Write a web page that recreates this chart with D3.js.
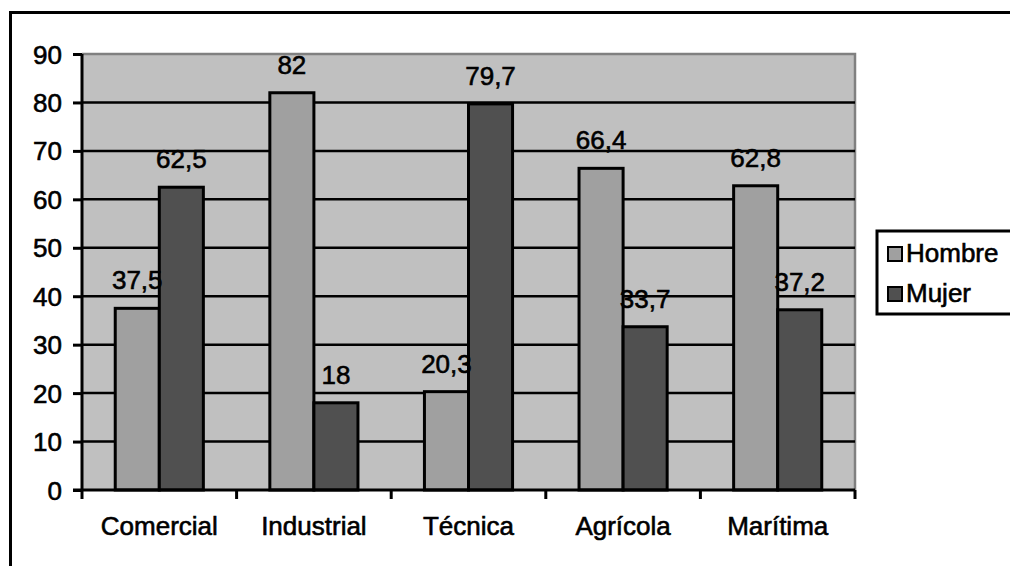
<!DOCTYPE html>
<html><head><meta charset="utf-8">
<script src="https://cdn.jsdelivr.net/npm/d3@7"></script>
<style>
html,body{margin:0;padding:0;background:#fff;}
svg text{font-family:"Liberation Sans",Arial,sans-serif;fill:#000;}
</style></head>
<body><svg id="c" width="1010" height="566"></svg>
<script>
const categories = ["Comercial","Industrial","Técnica","Agrícola","Marítima"];
const series = ["Hombre","Mujer"];
const hombre = [37.5, 82, 20.3, 66.4, 62.8];
const mujer = [62.5, 18, 79.7, 33.7, 37.2];
const yTicks = [0,10,20,30,40,50,60,70,80,90];
const colors = {Hombre:"#a0a0a0", Mujer:"#505050"};

const svg = d3.select("#c");
const plot = {l:82, t:54, r:855, b:490};
const fs = 26;

// outer frame
svg.append("rect").attr("x",10.5).attr("y",12.5).attr("width",1010).attr("height",600)
  .attr("fill","none").attr("stroke","#000").attr("stroke-width",3);

const x0 = d3.scaleBand().domain(categories).range([plot.l, plot.r]).padding(0);
const bw = x0.bandwidth();
const x1 = d3.scaleBand().domain(series).range([bw*0.215, bw*0.785]).padding(0);
const y = d3.scaleLinear().domain([0,90]).range([plot.b, plot.t]);

// plot background
svg.append("rect").attr("x",plot.l).attr("y",plot.t).attr("width",plot.r-plot.l).attr("height",plot.b-plot.t)
  .attr("fill","#c0c0c0");
// top & right border (grey)
svg.append("path").attr("d",`M${plot.l},${plot.t}H${plot.r}V${plot.b}`).attr("fill","none")
  .attr("stroke","#808080").attr("stroke-width",2.5);

// gridlines
svg.append("g").selectAll("line").data(yTicks.filter(d=>d>0 && d<90)).join("line")
  .attr("x1",plot.l).attr("x2",plot.r).attr("y1",d=>y(d)).attr("y2",d=>y(d))
  .attr("stroke","#000").attr("stroke-width",2.5);

// bars
const data = categories.map((c,i)=>({c, vals:[{s:"Hombre",v:hombre[i]},{s:"Mujer",v:mujer[i]}]}));
const groups = svg.append("g").selectAll("g").data(data).join("g")
  .attr("transform",d=>`translate(${x0(d.c)},0)`);
groups.selectAll("rect").data(d=>d.vals).join("rect")
  .attr("x",d=>x1(d.s)).attr("width",x1.bandwidth())
  .attr("y",d=>y(d.v)).attr("height",d=>y(0)-y(d.v))
  .attr("fill",d=>colors[d.s]).attr("stroke","#000").attr("stroke-width",3);
groups.selectAll("text").data(d=>d.vals).join("text")
  .attr("x",d=>x1(d.s)+x1.bandwidth()/2).attr("y",d=>y(d.v)-19)
  .attr("text-anchor","middle").attr("font-size",fs)
  .attr("stroke","#000").attr("stroke-width",0.6)
  .text(d=>String(d.v).replace(".",","));

// y axis
const yAxis = svg.append("g").attr("transform",`translate(${plot.l},0)`)
  .call(d3.axisLeft(y).tickValues(yTicks).tickSize(9).tickPadding(11));
yAxis.select(".domain").attr("stroke","#000").attr("stroke-width",3).attr("d",`M0,${plot.t}V${plot.b}`);
yAxis.selectAll(".tick line").attr("stroke","#000").attr("stroke-width",3);
yAxis.selectAll(".tick text").attr("font-size",fs).attr("font-family","Liberation Sans, Arial, sans-serif")
  .attr("fill","#000").attr("stroke","#000").attr("stroke-width",0.6).attr("dy","0.35em");

// x axis
const xAxis = svg.append("g").attr("transform",`translate(0,${plot.b})`)
  .call(d3.axisBottom(x0).tickSize(0).tickPadding(27));
xAxis.select(".domain").attr("stroke","#000").attr("stroke-width",3).attr("d",`M${plot.l-9},0H${plot.r}`);
xAxis.selectAll(".tick text").attr("font-size",fs).attr("font-family","Liberation Sans, Arial, sans-serif")
  .attr("fill","#000").attr("stroke","#000").attr("stroke-width",0.6);
// category boundary ticks
const bounds = categories.map(c=>x0(c)).concat([x0(categories[categories.length-1])+bw]);
xAxis.append("g").selectAll("line").data(bounds).join("line")
  .attr("x1",d=>d).attr("x2",d=>d).attr("y1",0).attr("y2",9)
  .attr("stroke","#000").attr("stroke-width",3);

// legend
const lg = svg.append("g");
lg.append("rect").attr("x",877).attr("y",231).attr("width",140).attr("height",83)
  .attr("fill","#fff").attr("stroke","#000").attr("stroke-width",3);
const li = lg.selectAll("g").data(series).join("g")
  .attr("transform",(d,i)=>`translate(888,${247+i*40})`);
li.append("rect").attr("width",14).attr("height",14).attr("fill",d=>colors[d])
  .attr("stroke","#000").attr("stroke-width",2);
li.append("text").attr("x",18).attr("y",15).attr("font-size",fs)
  .attr("stroke","#000").attr("stroke-width",0.6).text(d=>d);
</script></body></html>
